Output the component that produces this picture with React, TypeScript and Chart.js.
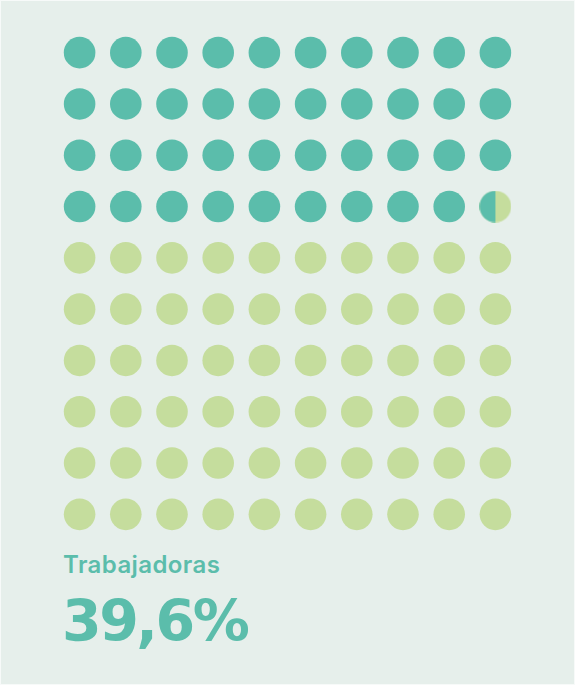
import React, { useEffect, useRef } from "react";
import { Chart, registerables } from "chart.js";

Chart.register(...registerables);

const title = "Trabajadoras";
const valueLabel = "39,6%";
const percent = 39.6;
const gridCols = 10;
const gridRows = 10;
const partialShown = 0.5; // split of the partial dot as drawn in the reference
const filledColor = "#5bbdab";
const emptyColor = "#c5dd9d";

function buildPoints() {
  const full: { x: number; y: number }[] = [];
  const empty: { x: number; y: number }[] = [];
  const partial: { x: number; y: number }[] = [];
  const whole = Math.floor(percent);
  const frac = percent - whole;
  for (let i = 0; i < gridCols * gridRows; i++) {
    const pt = { x: i % gridCols, y: Math.floor(i / gridCols) };
    if (i < whole) full.push(pt);
    else if (i === whole && frac > 0) partial.push(pt);
    else empty.push(pt);
  }
  return { full, empty, partial };
}

const R = 15.8;

function makePartialStyle() {
  const size = Math.ceil(R * 2);
  const c = document.createElement("canvas");
  c.width = size;
  c.height = size;
  const ctx = c.getContext("2d")!;
  const cx = size / 2;
  ctx.beginPath();
  ctx.arc(cx, cx, R, 0, Math.PI * 2);
  ctx.fillStyle = emptyColor;
  ctx.fill();
  ctx.save();
  ctx.beginPath();
  ctx.rect(0, 0, size * partialShown, size);
  ctx.clip();
  ctx.beginPath();
  ctx.arc(cx, cx, R, 0, Math.PI * 2);
  ctx.fillStyle = filledColor;
  ctx.fill();
  ctx.restore();
  return c;
}

export default function App() {
  const ref = useRef<HTMLCanvasElement>(null);
  useEffect(() => {
    document.body.style.margin = "0";
    const { full, empty, partial } = buildPoints();
    const chart = new Chart(ref.current!, {
      type: "scatter",
      data: {
        datasets: [
          { data: full, pointRadius: R, pointHoverRadius: R, backgroundColor: filledColor, borderWidth: 0 },
          { data: empty, pointRadius: R, pointHoverRadius: R, backgroundColor: emptyColor, borderWidth: 0 },
          { data: partial, pointRadius: R, pointStyle: makePartialStyle(), borderWidth: 0 },
        ],
      },
      options: {
        responsive: false,
        animation: false,
        events: [],
        layout: { autoPadding: false, padding: { left: 56.5, right: 56.5, top: 27, bottom: 6 } },
        plugins: { legend: { display: false }, tooltip: { enabled: false } },
        scales: {
          x: { type: "linear", min: -0.5, max: gridCols - 0.5, display: false },
          y: { type: "linear", min: -0.5, max: gridRows - 0.5, reverse: true, display: false },
        },
      },
    });
    return () => chart.destroy();
  }, []);
  return (
    <div
      style={{
        position: "relative",
        width: 573,
        height: 683,
        background: "#e6efeb",
        border: "1px solid #f7faf9",
        overflow: "hidden",
      }}
    >
      <canvas ref={ref} width={575} height={546} style={{ position: "absolute", left: -1, top: -1 }} />
      <div
        style={{
          position: "absolute",
          left: 62,
          top: 549,
          fontFamily: "Inter, sans-serif",
          fontWeight: 600,
          fontSize: 24,
          letterSpacing: "0.4px",
          color: filledColor,
          lineHeight: "30px",
          whiteSpace: "nowrap",
        }}
      >
        {title}
      </div>
      <div
        style={{
          position: "absolute",
          left: 61,
          top: 588,
          fontFamily: "'DejaVu Sans', sans-serif",
          fontWeight: 700,
          fontSize: 57,
          letterSpacing: "-2.5px",
          color: filledColor,
          lineHeight: "64px",
          whiteSpace: "nowrap",
        }}
      >
        {valueLabel}
      </div>
    </div>
  );
}
